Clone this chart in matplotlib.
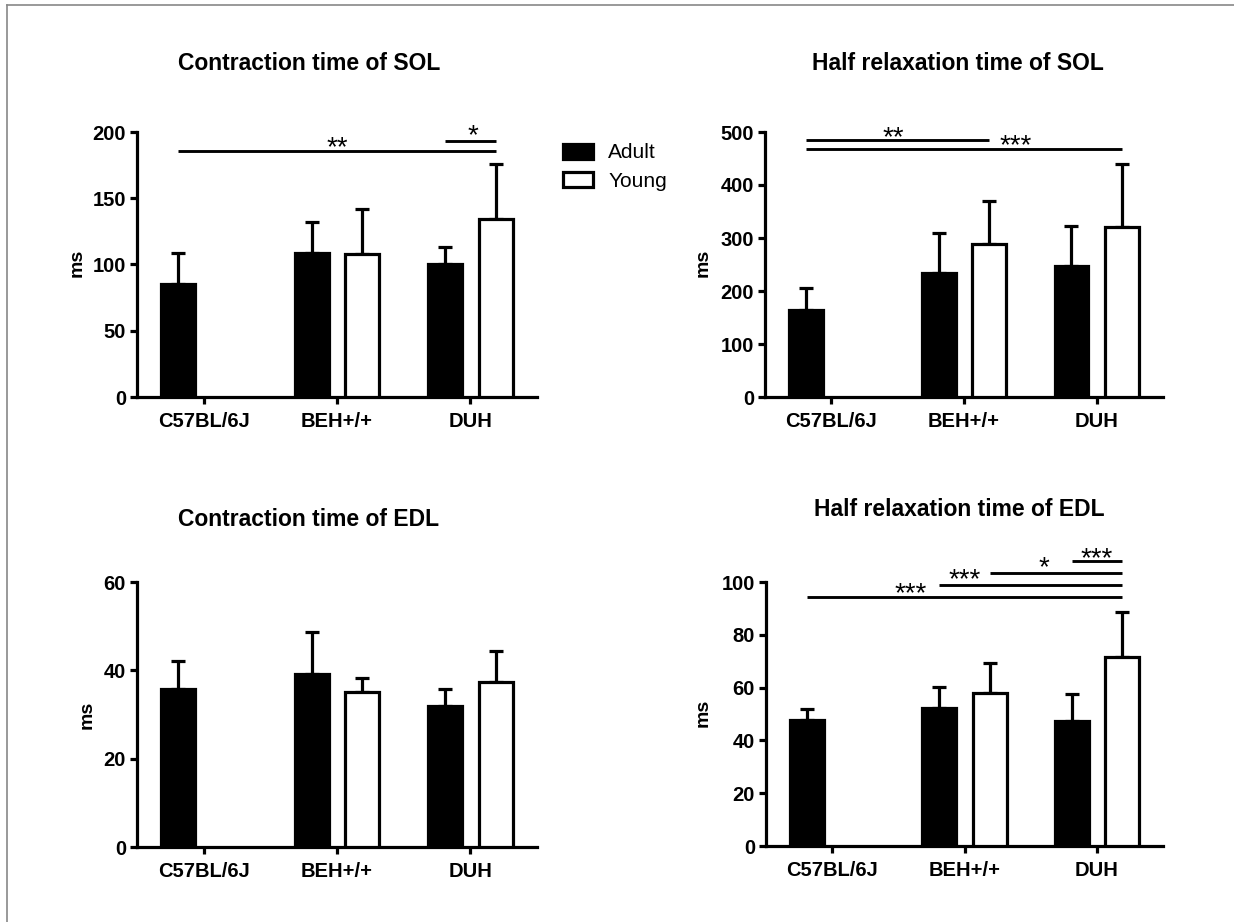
import matplotlib
matplotlib.use("Agg")
import matplotlib.pyplot as plt
import matplotlib.transforms as mtransforms
from matplotlib.patches import Patch
from matplotlib.lines import Line2D
import numpy as np

plt.rcParams['font.family'] = ['Liberation Sans', 'DejaVu Sans']

categories = ["C57BL/6J", "BEH+/+", "DUH"]
series = ["Adult", "Young"]

titles = ["Contraction time of SOL", "Half relaxation time of SOL",
          "Contraction time of EDL", "Half relaxation time of EDL"]

ct_sol_adult = [85, 109, 100.5]
ct_sol_adult_err = [24, 23, 13]
ct_sol_young = [np.nan, 108, 134.5]
ct_sol_young_err = [np.nan, 34, 41.5]

hr_sol_adult = [164, 234, 247]
hr_sol_adult_err = [42, 76, 75]
hr_sol_young = [np.nan, 288, 321]
hr_sol_young_err = [np.nan, 81, 119]

ct_edl_adult = [35.7, 39.1, 32.0]
ct_edl_adult_err = [6.4, 9.6, 3.7]
ct_edl_young = [np.nan, 35.1, 37.3]
ct_edl_young_err = [np.nan, 3.2, 7.1]

hr_edl_adult = [47.7, 52.1, 47.3]
hr_edl_adult_err = [4.1, 8.2, 10.2]
hr_edl_young = [np.nan, 58.0, 71.6]
hr_edl_young_err = [np.nan, 11.4, 17.0]

yticks = [[0, 50, 100, 150, 200], [0, 100, 200, 300, 400, 500],
          [0, 20, 40, 60], [0, 20, 40, 60, 80, 100]]

# significance: (x_start, x_end, y, label, label_x, label_y)
sig_ct_sol = [(-0.19, 2.19, 186, "**", 1.0, 192),
              (1.81, 2.19, 193.5, "*", 2.02, 201)]
sig_hr_sol = [(-0.19, 1.19, 484, "**", 0.47, 500),
              (-0.19, 2.19, 467, "***", 1.39, 485)]
sig_ct_edl = []
sig_hr_edl = [(-0.19, 2.19, 94.3, "***", 0.59, 97.5),
              (0.81, 2.19, 98.9, "***", 1.0, 102.8),
              (1.19, 2.19, 103.3, "*", 1.6, 107.6),
              (1.81, 2.19, 107.9, "***", 2.0, 111.0)]

W, H = 1234, 922
fig = plt.figure(figsize=(W / 100, H / 100), dpi=100)

def px_rect(x0, y0, x1, y1):
    return [x0 / W, 1 - y1 / H, (x1 - x0) / W, (y1 - y0) / H]

axes_px = [(137, 132, 537, 397), (765, 132, 1163, 397),
           (137, 582, 537, 847), (766, 582, 1163, 846)]
title_px = [(309, 64), (958, 64), (309, 519), (959, 509)]
ylabel_px = [(77, 263), (703, 263), (87, 715), (703, 713)]

data = [(ct_sol_adult, ct_sol_adult_err, ct_sol_young, ct_sol_young_err, sig_ct_sol),
        (hr_sol_adult, hr_sol_adult_err, hr_sol_young, hr_sol_young_err, sig_hr_sol),
        (ct_edl_adult, ct_edl_adult_err, ct_edl_young, ct_edl_young_err, sig_ct_edl),
        (hr_edl_adult, hr_edl_adult_err, hr_edl_young, hr_edl_young_err, sig_hr_edl)]

LW = 2.3
off = 0.19
bw = 0.255
x = np.arange(len(categories))

for i, (a, ae, y, ye, sig) in enumerate(data):
    ax = fig.add_axes(px_rect(*axes_px[i]))
    ax.bar(x - off, a, bw, color='black', edgecolor='black', linewidth=LW, zorder=3)
    ax.bar(x + off, y, bw, color='white', edgecolor='black', linewidth=LW, zorder=3)
    ax.errorbar(x - off, a, yerr=[np.zeros(3), ae], fmt='none', ecolor='black',
                elinewidth=LW, capsize=5, capthick=LW, zorder=2)
    ax.errorbar(x + off, y, yerr=[np.zeros(3), ye], fmt='none', ecolor='black',
                elinewidth=LW, capsize=5, capthick=LW, zorder=2)
    ax.set_xlim(-0.5, 2.5)
    ax.set_ylim(0, yticks[i][-1])
    ax.set_yticks(yticks[i])
    ax.set_xticks(x)
    ax.set_xticklabels(categories)
    for s in ['top', 'right']:
        ax.spines[s].set_visible(False)
    for s in ['left', 'bottom']:
        ax.spines[s].set_linewidth(LW)
    ax.tick_params(width=LW, length=5, labelsize=14.5)
    ax.tick_params(axis='x', pad=6)
    ax.tick_params(axis='y', pad=3)
    for lab in ax.get_xticklabels() + ax.get_yticklabels():
        lab.set_fontweight('bold')
    txt_tr = mtransforms.offset_copy(ax.transData, fig=fig, x=0, y=-6, units='dots')
    for (xs, xe, yy, lab, lx, ly) in sig:
        ax.plot([xs, xe], [yy, yy], color='black', lw=LW * 0.9, clip_on=False,
                solid_capstyle='butt')
        ax.text(lx, ly, lab, ha='center', va='center', fontsize=20, clip_on=False,
                transform=txt_tr)
    tx, ty = title_px[i]
    fig.text(tx / W, 1 - ty / H, titles[i], ha='center', va='center',
             fontsize=16.5, fontweight='bold')
    lx, ly = ylabel_px[i]
    fig.text(lx / W, 1 - ly / H, "ms", ha='center', va='center', rotation=90,
             fontsize=14, fontweight='bold')

handles = [Patch(facecolor='black', edgecolor='black', linewidth=LW),
           Patch(facecolor='white', edgecolor='black', linewidth=LW)]
fig.legend(handles, series, loc='upper left', bbox_to_anchor=(553 / W, 1 - 133 / H),
           frameon=False, fontsize=15, handlelength=1.4, handleheight=0.75,
           handletextpad=0.75, labelspacing=0.45, borderpad=0)

# thin figure border
fig.add_artist(Line2D([6.5 / W, 6.5 / W], [0, 1 - 5.5 / H], color='#888888', lw=1.2))
fig.add_artist(Line2D([6.5 / W, 1], [1 - 5.5 / H, 1 - 5.5 / H], color='#888888', lw=1.2))

fig.savefig("out.png", dpi=100)
